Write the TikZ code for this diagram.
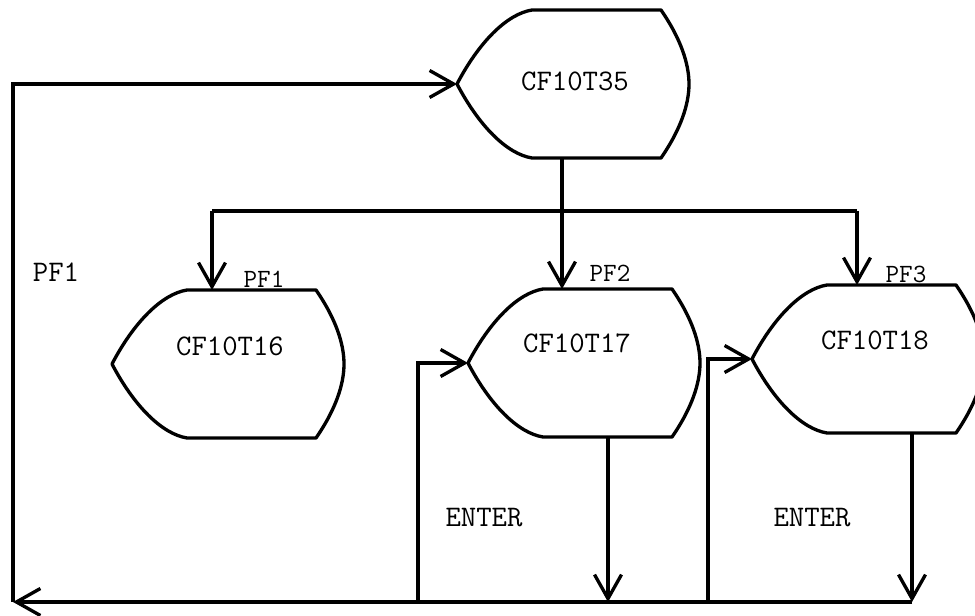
\documentclass[tikz,border=0pt]{standalone}
\usepackage{tikz}
\usetikzlibrary{arrows.meta}
\tikzset{%
    disp/.pic={
        \draw[line width=1.9pt,line join=round] (0,0) .. controls (22,-42) and (50,-70) .. (75,-74)
            -- (204,-74) .. controls (224,-45) and (232,-20) .. (232,0)
            .. controls (232,20) and (224,45) .. (204,74)
            -- (75,74) .. controls (50,70) and (22,42) .. (0,0) -- cycle;
        \coordinate (-w) at (0,0);
        \coordinate (-top) at (100,-74);
        \coordinate (-bot) at (100,74);
    }
}

\begin{document}
\begin{tikzpicture}[
                x=0.2mm, y=-0.2mm,
                flow/.style={line width=1.9pt, -{Straight Barb[length=4.8mm,width=5.4mm,line width=1.9pt]}},
                wire/.style={line width=1.9pt},
                lbl/.style={font=\fontsize{17}{20}\selectfont\ttfamily, inner sep=0pt},
                key/.style={font=\fontsize{15}{18}\selectfont\ttfamily, inner sep=0pt}
            ]
            \useasboundingbox (0,0) rectangle (975,616);

            \pic (s35) at (457,84) {disp};
            \pic (s16) at (112,364) {disp};
            \pic (s17) at (468,363) {disp};
            \pic (s18) at (752,359) {disp};

            \node[lbl] (t35) at (575,81) {CF10T35};
            \node[lbl] (t16) at (230,346) {CF10T16};
            \node[lbl] (t17) at (577,343) {CF10T17};
            \node[lbl] (t18) at (875,340) {CF10T18};

            \coordinate (o35) at (562,158);
            \coordinate (o17) at (608,437);
            \coordinate (o18) at (912,433);
            \coordinate (h16) at (212,211);
            \coordinate (h18) at (857,211);
            \coordinate (r17) at (418,602);
            \coordinate (r18) at (708,602);
            \coordinate (ret) at (13,602);

            \draw[flow] (o35) -- (o35 |- s17-top);
            \draw[wire] (h16) -- (h18);
            \draw[flow] (h16) -- (h16 |- s16-top);
            \draw[flow] (h18) -- (h18 |- s18-top);
            \draw[flow] (o17) -- (o17 |- ret);
            \draw[flow] (o18) -- (o18 |- ret);
            \draw[flow] (o18 |- ret) -- (ret);
            \draw[flow] (ret) -- (ret |- s35-w) -- (s35-w);
            \draw[flow] (r17) -- (r17 |- s17-w) -- (s17-w);
            \draw[flow] (r18) -- (r18 |- s18-w) -- (s18-w);

            \node[lbl] (pf1a) at (56,272) {PF1};
            \node[key] (pf1b) at (264,279) {PF1};
            \node[key] (pf2) at (610,273) {PF2};
            \node[key] (pf3) at (906,274) {PF3};
            \node[lbl] (ent17) at (484,518) {ENTER};
            \node[lbl] (ent18) at (812,518) {ENTER};
        \end{tikzpicture}
\end{document}
